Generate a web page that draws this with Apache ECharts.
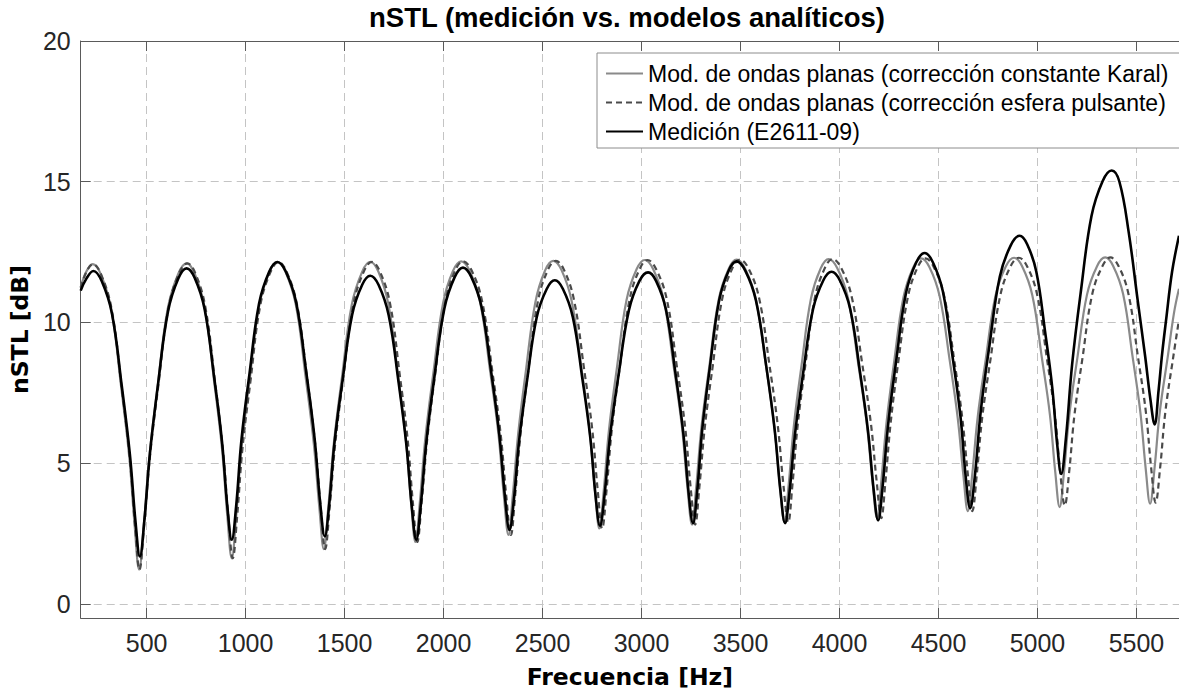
<!DOCTYPE html>
<html>
<head>
<meta charset="utf-8">
<script src="https://cdn.jsdelivr.net/npm/echarts@6/dist/echarts.min.js"></script>
<style>
html,body{margin:0;padding:0;background:#fff;}
#chart{width:1179px;height:694px;}
</style>
</head>
<body>
<div id="chart"></div>
<script>
// ---------- texts ----------
const titleText = 'nSTL (medición vs. modelos analíticos)';
const xAxisName = 'Frecuencia [Hz]';
const yAxisName = 'nSTL [dB]';
const seriesNames = [
  'Mod. de ondas planas (corrección constante Karal)',
  'Mod. de ondas planas (corrección esfera pulsante)',
  'Medición (E2611-09)'
];
// ---------- axis ranges / ticks ----------
const xRange = [167, 5715];
const yRange = [-0.5, 20];
const xTickStep = 500;
const yTickStep = 5;

// ---------- Modelo: corrección constante Karal (gris) ----------
const karalFreq = [
  167,195,228,
  270,322,371,412,440,462, 485,514,556,606,659,702,
  743,793,841,881,908,930, 952,979,1020,1068,1119,1160,
  1202,1254,1303,1344,1373,1395, 1417,1446,1487,1536,1588,1630,
  1671,1721,1769,1809,1836,1858, 1880,1908,1948,1997,2047,2089,
  2132,2185,2235,2277,2305,2328, 2349,2377,2416,2464,2513,2554,
  2596,2647,2696,2737,2765,2787, 2809,2836,2876,2924,2975,3016,
  3059,3112,3162,3204,3232,3255, 3276,3303,3343,3390,3440,3480,
  3524,3577,3628,3670,3699,3722, 3743,3770,3809,3856,3905,3945,
  3989,4043,4094,4137,4167,4190, 4211,4238,4277,4323,4372,4412,
  4454,4506,4556,4597,4626,4648, 4670,4698,4739,4788,4840,4882,
  4923,4974,5022,5063,5090,5112, 5134,5161,5202,5250,5301,5342,
  5383,5433,5480,5520,5547,5569, 5591,5618,5659,5690,5715
];
const karalVal = [
  11.25,11.80,12.07,
  11.69,10.44,7.73,5.23,2.74,1.22, 2.74,5.25,7.75,10.47,11.72,12.10,
  11.73,10.53,7.91,5.50,3.09,1.62, 3.09,5.52,7.94,10.57,11.78,12.15,
  11.79,10.62,8.07,5.72,3.38,1.95, 3.38,5.72,8.07,10.62,11.79,12.15,
  11.80,10.66,8.17,5.88,3.59,2.20, 3.60,5.89,8.18,10.67,11.82,12.17,
  11.83,10.71,8.28,6.05,3.81,2.45, 3.81,6.05,8.29,10.73,11.85,12.19,
  11.86,10.76,8.39,6.20,4.01,2.68, 4.02,6.21,8.40,10.79,11.89,12.22,
  11.89,10.81,8.46,6.30,4.14,2.82, 4.14,6.30,8.47,10.82,11.90,12.23,
  11.90,10.83,8.50,6.35,4.21,2.90, 4.21,6.36,8.51,10.85,11.92,12.25,
  11.93,10.87,8.57,6.45,4.34,3.05, 4.34,6.47,8.65,10.89,11.95,12.28,
  11.97,10.93,8.69,6.62,4.56,3.30, 4.56,6.63,8.70,10.95,11.99,12.30,
  11.99,10.97,8.76,6.72,4.68,3.44, 4.68,6.72,8.76,10.98,12.00,12.31,
  12.00,11.00,8.81,6.80,4.79,3.56, 4.79,6.82,8.82,10.35,11.20
];

// ---------- Modelo: corrección esfera pulsante (discontinua) ----------
const esferaFreq = [
  167,196,229,
  271,324,373,414,442,464, 487,517,559,609,662,706,
  747,797,845,885,913,935, 957,984,1025,1073,1125,1166,
  1208,1260,1310,1351,1380,1402, 1424,1453,1494,1544,1596,1638,
  1679,1730,1778,1818,1845,1867, 1889,1918,1958,2007,2057,2099,
  2143,2196,2246,2288,2317,2340, 2361,2389,2428,2476,2526,2567,
  2609,2660,2709,2751,2779,2801, 2823,2850,2890,2939,2990,3031,
  3074,3128,3178,3220,3248,3271, 3292,3320,3360,3407,3457,3497,
  3542,3595,3646,3688,3717,3741, 3762,3789,3828,3875,3925,3965,
  4009,4063,4114,4158,4188,4211, 4232,4259,4298,4345,4394,4434,
  4476,4529,4579,4620,4649,4671, 4693,4721,4763,4812,4864,4906,
  4948,4999,5047,5088,5115,5138, 5160,5187,5228,5276,5328,5369,
  5410,5460,5507,5548,5575,5597, 5619,5646,5687,5715
];
const esferaVal = [
  11.23,11.80,12.07,
  11.69,10.44,7.73,5.23,2.74,1.22, 2.74,5.25,7.75,10.47,11.72,12.10,
  11.73,10.53,7.91,5.50,3.09,1.62, 3.09,5.52,7.94,10.57,11.78,12.15,
  11.79,10.62,8.07,5.72,3.38,1.95, 3.38,5.72,8.07,10.62,11.79,12.15,
  11.80,10.66,8.17,5.88,3.59,2.20, 3.60,5.89,8.18,10.67,11.82,12.17,
  11.83,10.71,8.28,6.05,3.81,2.45, 3.81,6.05,8.29,10.73,11.85,12.19,
  11.86,10.76,8.39,6.20,4.01,2.68, 4.02,6.21,8.40,10.79,11.89,12.22,
  11.89,10.81,8.46,6.30,4.14,2.82, 4.14,6.30,8.47,10.82,11.90,12.23,
  11.90,10.83,8.50,6.35,4.21,2.90, 4.21,6.36,8.51,10.85,11.92,12.25,
  11.93,10.87,8.57,6.45,4.34,3.05, 4.34,6.47,8.65,10.89,11.95,12.28,
  11.97,10.93,8.69,6.62,4.56,3.30, 4.56,6.63,8.70,10.95,11.99,12.30,
  11.99,10.97,8.76,6.72,4.68,3.50, 4.68,6.72,8.76,10.98,12.00,12.31,
  12.00,11.00,8.81,6.80,4.79,3.60, 4.79,6.82,8.82,10.10
];

// ---------- Medición E2611-09 (negro) ----------
const medFreq = [
  167,195,231,
  273,325,374,415,444,466, 488,517,558,608,660,702,
  743,793,841,881,908,930, 952,979,1020,1068,1119,1160,
  1203,1256,1306,1348,1377,1400, 1422,1449,1490,1538,1589,1630,
  1672,1723,1772,1812,1840,1862, 1884,1913,1954,2004,2056,2098,
  2140,2192,2241,2282,2311,2333, 2355,2382,2422,2470,2521,2562,
  2603,2653,2701,2741,2768,2790, 2813,2842,2885,2936,2989,3033,
  3074,3124,3171,3211,3238,3260, 3281,3307,3346,3392,3440,3480,
  3524,3578,3630,3672,3702,3725, 3747,3776,3817,3866,3918,3960,
  4002,4054,4103,4144,4173,4195, 4217,4246,4287,4336,4388,4430,
  4471,4522,4570,4611,4638,4660, 4684,4714,4758,4810,4865,4910,
  4948,4994,5038,5075,5100,5120, 5144,5175,5219,5273,5329,5375,
  5414,5461,5506,5544,5570,5592, 5612,5630,5650,5680,5715
];
const medVal = [
  11.13,11.55,11.83,
  11.47,10.31,7.77,5.34,2.91,1.69, 2.92,5.37,7.83,10.39,11.56,11.92,
  11.58,10.47,8.06,5.75,3.44,2.28, 3.46,5.83,8.20,10.67,11.80,12.15,
  11.81,10.69,8.25,5.91,3.57,2.40, 3.51,5.73,7.96,10.27,11.34,11.66,
  11.33,10.25,7.91,5.66,3.41,2.28, 3.44,5.76,8.08,10.50,11.61,11.95,
  11.62,10.55,8.22,5.99,3.75,2.63, 3.69,5.82,7.95,10.17,11.19,11.50,
  11.19,10.19,8.01,5.92,3.83,2.78, 3.86,6.02,8.18,10.43,11.47,11.78,
  11.47,10.44,8.22,6.08,3.94,2.87, 3.99,6.22,8.45,10.78,11.84,12.17,
  11.84,10.78,8.45,6.22,3.99,2.87, 3.94,6.08,8.23,10.46,11.49,11.80,
  11.49,10.48,8.27,6.15,4.03,2.97, 4.11,6.39,8.67,11.05,12.14,12.47,
  12.15,11.11,8.84,6.67,4.49,3.40, 4.56,6.88,9.21,11.63,12.74,13.08,
  12.78,11.81,9.70,7.67,5.64,4.62, 5.91,8.50,11.09,13.78,15.02,15.40,
  15.00,13.20,10.80,8.80,7.30,6.38, 7.60,8.90,10.10,11.80,13.08
];

function pairs(fs, vs) { return fs.map((f, i) => [f, vs[i]]); }

const axisColor = '#5a5a5a';
const labelColor = '#262626';
const gridColor = '#c4c4c4';
const plainNum = v => String(v);

const chart = echarts.init(document.getElementById('chart'), null, { renderer: 'svg' });
chart.setOption({
  backgroundColor: '#ffffff',
  animation: false,
  title: {
    text: titleText,
    left: 369, top: 3, padding: 0,
    textStyle: { fontFamily: 'Liberation Sans', fontWeight: 'bold', fontSize: 27.5, color: '#000' }
  },
  grid: { left: 78, top: 41, right: 0, bottom: 73, containLabel: false },
  legend: {
    orient: 'vertical',
    left: 597, top: 53,
    padding: [6, 12, 2, 8],
    itemWidth: 37, itemHeight: 14, itemGap: 0,
    backgroundColor: '#ffffff',
    borderColor: '#8c8c8c', borderWidth: 1, borderRadius: 0,
    itemStyle: { opacity: 0 },
    textStyle: { fontFamily: 'Liberation Sans', fontSize: 23, color: '#000', lineHeight: 29 },
    data: seriesNames
  },
  xAxis: [{
    type: 'value', position: 'bottom',
    min: xRange[0], max: xRange[1],
    splitNumber: 10, minInterval: xTickStep, maxInterval: xTickStep,
    name: xAxisName, nameLocation: 'middle', nameGap: 47,
    nameTextStyle: { fontFamily: 'DejaVu Sans', fontWeight: 'bold', fontSize: 23.5, color: '#000' },
    axisLine: { show: true, onZero: false, lineStyle: { color: axisColor, width: 1 } },
    axisTick: { show: true, inside: true, length: 10, lineStyle: { color: axisColor } },
    axisLabel: { showMinLabel: false, showMaxLabel: false, margin: 12, formatter: plainNum,
      fontFamily: 'Liberation Sans', fontSize: 25, color: labelColor },
    splitLine: { show: true, lineStyle: { color: gridColor, width: 1, type: [8, 5] } }
  }, {
    type: 'value', position: 'top',
    min: xRange[0], max: xRange[1],
    splitNumber: 10, minInterval: xTickStep, maxInterval: xTickStep,
    axisLine: { show: true, onZero: false, lineStyle: { color: axisColor, width: 1 } },
    axisTick: { show: true, inside: true, length: 10, lineStyle: { color: axisColor } },
    axisLabel: { show: false },
    splitLine: { show: false }
  }],
  yAxis: {
    type: 'value',
    min: yRange[0], max: yRange[1],
    splitNumber: 4, minInterval: yTickStep, maxInterval: yTickStep,
    name: yAxisName, nameLocation: 'middle', nameGap: 42, nameRotate: 90,
    nameTextStyle: { fontFamily: 'DejaVu Sans', fontWeight: 'bold', fontSize: 23.5, color: '#000' },
    axisLine: { show: true, onZero: false, lineStyle: { color: axisColor, width: 1 } },
    axisTick: { show: true, inside: true, length: 10, lineStyle: { color: axisColor } },
    axisLabel: { showMinLabel: false, margin: 10, formatter: plainNum,
      fontFamily: 'Liberation Sans', fontSize: 25, color: labelColor },
    splitLine: { show: true, lineStyle: { color: gridColor, width: 1, type: [8, 5] } }
  },
  series: [{
    name: seriesNames[0], type: 'line', xAxisIndex: 0,
    data: pairs(karalFreq, karalVal),
    symbol: 'none', smooth: 0.4,
    lineStyle: { color: '#8a8a8a', width: 2.2 },
    itemStyle: { color: '#8a8a8a' }, z: 3
  }, {
    name: seriesNames[1], type: 'line', xAxisIndex: 0,
    data: pairs(esferaFreq, esferaVal),
    symbol: 'none', smooth: 0.4,
    lineStyle: { color: '#4a4a4a', width: 2.2, type: [6, 4] },
    itemStyle: { color: '#4a4a4a' }, z: 4
  }, {
    name: seriesNames[2], type: 'line', xAxisIndex: 0,
    data: pairs(medFreq, medVal),
    symbol: 'none', smooth: 0.4,
    lineStyle: { color: '#000000', width: 2.6 },
    itemStyle: { color: '#000000' }, z: 5
  }]
});
</script>
</body>
</html>
